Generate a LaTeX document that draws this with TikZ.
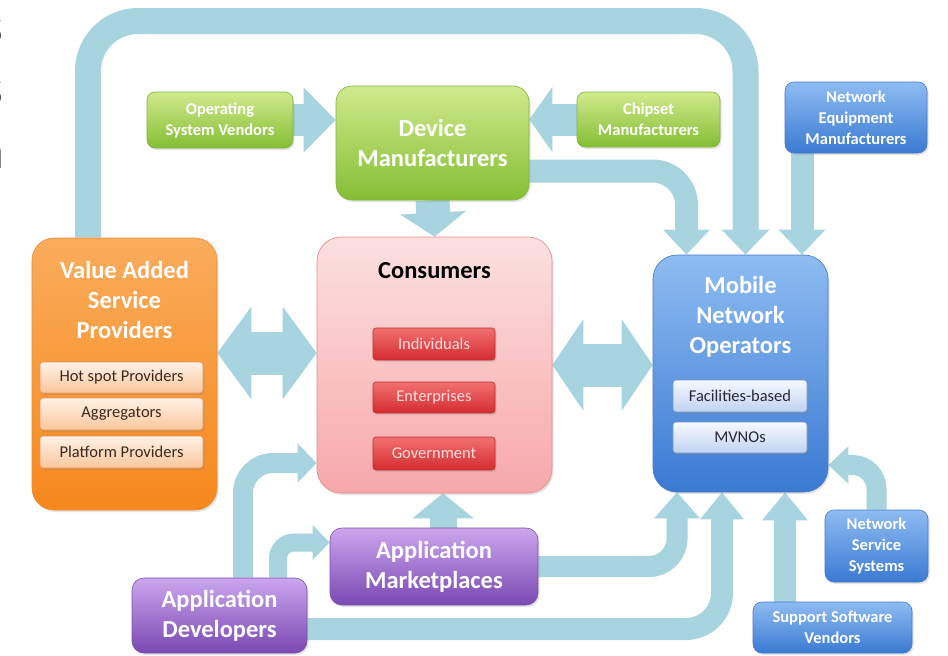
\documentclass[tikz,border=0pt]{standalone}
\usepackage{fontspec}
\setmainfont{Carlito}
\usetikzlibrary{arrows.meta,shadows,backgrounds}

\definecolor{flowblue}{RGB}{168,212,224}
\definecolor{edgegray}{RGB}{60,60,60}
\definecolor{greenT}{RGB}{208,234,140}
\definecolor{greenB}{RGB}{132,190,52}
\definecolor{greenE}{RGB}{130,180,70}
\definecolor{orangeT}{RGB}{250,172,92}
\definecolor{orangeB}{RGB}{246,136,28}
\definecolor{orangeE}{RGB}{235,140,50}
\definecolor{peachT}{RGB}{255,242,230}
\definecolor{peachB}{RGB}{250,198,156}
\definecolor{peachE}{RGB}{225,150,95}
\definecolor{pinkT}{RGB}{252,224,224}
\definecolor{pinkB}{RGB}{247,168,170}
\definecolor{pinkE}{RGB}{225,140,140}
\definecolor{redT}{RGB}{242,112,112}
\definecolor{redB}{RGB}{212,44,48}
\definecolor{redE}{RGB}{190,45,45}
\definecolor{blueT}{RGB}{142,188,242}
\definecolor{blueB}{RGB}{58,122,210}
\definecolor{blueE}{RGB}{70,120,200}
\definecolor{paleT}{RGB}{246,249,255}
\definecolor{paleB}{RGB}{192,211,242}
\definecolor{paleE}{RGB}{120,150,200}
\definecolor{purpleT}{RGB}{204,166,238}
\definecolor{purpleB}{RGB}{122,72,178}
\definecolor{purpleE}{RGB}{120,80,170}

\newcommand{\ttl}{\fontsize{24.5}{30}\selectfont\bfseries}
\newcommand{\lbl}{\fontsize{16.5}{21}\selectfont\bfseries}
\newcommand{\sublbl}{\fontsize{16.5}{20}\selectfont}

\tikzset{
  panel/.style={rounded corners=#1, line width=0.6pt, align=center, inner sep=2pt,
    drop shadow={shadow xshift=1.5pt, shadow yshift=-2pt, opacity=0.22}},
  gbox/.style={panel=#1, top color=greenT, bottom color=greenB, draw=greenE, text=white},
  obox/.style={panel=#1, top color=orangeT, bottom color=orangeB, draw=orangeE, text=white},
  pbox/.style={panel=#1, top color=pinkT, bottom color=pinkB, draw=pinkE, text=black},
  bbox/.style={panel=#1, top color=blueT, bottom color=blueB, draw=blueE, text=white},
  vbox/.style={panel=#1, top color=purpleT, bottom color=purpleB, draw=purpleE, text=white},
  peachsub/.style={panel=3pt, top color=peachT, bottom color=peachB, draw=peachE,
    text={rgb,255:red,60;green,40;blue,30}, font=\sublbl},
  redsub/.style={panel=3pt, top color=redT, bottom color=redB, draw=redE,
    text={rgb,255:red,255;green,222;blue,222}, font=\sublbl},
  palesub/.style={panel=3pt, top color=paleT, bottom color=paleB, draw=paleE,
    text={rgb,255:red,40;green,40;blue,55}, font=\sublbl},
  fl/.style n args={3}{draw=flowblue, line width=#1, -{Triangle[width=#2,length=#3]}},
  dfl/.style n args={3}{draw=flowblue, line width=#1,
    {Triangle[width=#2,length=#3]}-{Triangle[width=#2,length=#3]}},
  edgechar/.style={text=edgegray, inner sep=0pt, anchor=base east,
    font=\fontsize{53}{53}\selectfont}
}

\begin{document}
\begin{tikzpicture}[x=1pt,y=-1pt]
\useasboundingbox (0,0) rectangle (948,656);

% letters of a heading cut off at the left edge
\node[edgechar] (ch1) at (3,43) {s};
\node[edgechar] (ch2) at (3,105) {s};
\node[edgechar] (ch3) at (4.5,168) {n};

% suppliers of devices
\node[gbox=8pt, minimum width=146pt, minimum height=56pt, font=\lbl] (osv) at (220,120) {Operating\\System Vendors};
\node[gbox=16pt, minimum width=193pt, minimum height=114pt, font=\ttl] (dev) at (432.5,143) {Device\\Manufacturers};
\node[gbox=8pt, minimum width=143pt, minimum height=55pt, font=\lbl] (chip) at (648.5,119.5) {Chipset\\Manufacturers};
\node[bbox=9pt, minimum width=142pt, minimum height=71pt, font=\lbl] (nem) at (856,117.5) {Network\\Equipment\\Manufacturers};

% value added service providers
\node[obox=22pt, minimum width=185pt, minimum height=272pt] (vasp) at (124.5,374) {};
\node[text=white, font=\ttl, align=center] (vaspt) at (124.5,300) {Value Added\\Service\\Providers};
\node[peachsub, minimum width=163pt, minimum height=31pt] (hot) at (121.5,377.5) {Hot spot Providers};
\node[peachsub, minimum width=163pt, minimum height=32pt] (agg) at (121.5,414) {Aggregators};
\node[peachsub, minimum width=163pt, minimum height=32pt] (plat) at (121.5,452) {Platform Providers};

% consumers
\node[pbox=24pt, minimum width=235pt, minimum height=256pt] (cons) at (434.5,365) {};
\node[font=\ttl, text=black] (const) at (434.5,271) {Consumers};
\node[redsub, minimum width=122pt, minimum height=32pt] (ind) at (434,344) {Individuals};
\node[redsub, minimum width=122pt, minimum height=31pt] (ent) at (434,397.5) {Enterprises};
\node[redsub, minimum width=122pt, minimum height=33pt] (gov) at (434,453.5) {Government};

% mobile network operators
\node[bbox=24pt, minimum width=175pt, minimum height=237pt] (mno) at (740.5,373.5) {};
\node[text=white, font=\ttl, align=center] (mnot) at (740.5,317) {Mobile\\Network\\Operators};
\node[palesub, minimum width=134pt, minimum height=32pt] (fac) at (740,396) {Facilities-based};
\node[palesub, minimum width=134pt, minimum height=31pt] (mvno) at (740,437.5) {MVNOs};

% network side suppliers
\node[bbox=9pt, minimum width=103pt, minimum height=72pt, font=\lbl] (nss) at (876.5,546) {Network\\Service\\Systems};
\node[bbox=9pt, minimum width=159pt, minimum height=51pt, font=\lbl] (ssv) at (832.5,627.5) {Support Software\\Vendors};

% applications
\node[vbox=12pt, minimum width=175pt, minimum height=75pt, font=\ttl] (adev) at (219.5,615.5) {Application\\Developers};
\node[vbox=12pt, minimum width=208pt, minimum height=77pt, font=\ttl] (mkt) at (434,566.5) {Application\\Marketplaces};

% helper points for the flows
\coordinate (archL) at ([xshift=-36.5pt]vasp.north);
\coordinate (archR) at ([xshift=5pt]mno.north);
\coordinate (archTop) at (0,21);
\coordinate (devOut) at ([yshift=-28pt]dev.east);
\coordinate (mnoInA) at ([xshift=-54pt]mno.north);
\coordinate (nemOut) at ([xshift=-54pt]nem.south);
\coordinate (vaspOut) at ([yshift=21pt]vasp.east);
\coordinate (mktUp) at ([xshift=9pt]mkt.north);
\coordinate (adevA) at ([xshift=23.5pt]adev.north);
\coordinate (adevB) at ([xshift=58.5pt]adev.north);
\coordinate (adevC) at ([yshift=-13.5pt]adev.east);
\coordinate (yAD) at (0,463);
\coordinate (mktIn) at ([yshift=24pt]mkt.west);
\coordinate (mnoInB) at ([xshift=-63.5pt]mno.south);
\coordinate (mnoInC) at ([xshift=-18.5pt]mno.south);
\coordinate (ssvOut) at ([xshift=-47.5pt]ssv.north);
\coordinate (yNS) at (0,465);

\begin{scope}[on background layer]
\fill[white] (0,0) rectangle (948,656);
% value added providers to operators
\draw[fl={26pt}{46pt}{25pt}, rounded corners=50pt] (archL) |- (archR |- archTop) -- (archR);
% into device manufacturers
\draw[fl={32pt}{63pt}{32pt}] (osv.east) -- (osv.east -| dev.west);
\draw[fl={32pt}{64pt}{23pt}] (chip.west) -- (chip.west -| dev.east);
% device manufacturers onward
\draw[fl={34pt}{65pt}{24pt}] (dev.south) -- (cons.north);
\draw[fl={23pt}{45pt}{25pt}, rounded corners=34pt] (devOut) -| (mnoInA);
\draw[fl={23pt}{45pt}{25pt}] (nemOut) -- (nemOut |- mno.north);
% two-way flows with consumers
\draw[dfl={43pt}{91pt}{34pt}] (vaspOut) -- (vaspOut -| cons.west);
\draw[dfl={43pt}{90pt}{31pt}] (cons.east) -- (cons.east -| mno.west);
% applications
\draw[fl={27pt}{60pt}{25pt}] (mktUp) -- (mktUp |- cons.south);
\draw[fl={20pt}{38pt}{19pt}, rounded corners=30pt] (adevA) |- (cons.west |- yAD);
\draw[fl={18pt}{34pt}{17pt}, rounded corners=16pt] (adevB) |- (mktIn);
\draw[fl={21pt}{44pt}{26pt}, rounded corners=28pt] (mkt.east) -| (mnoInB);
\draw[fl={22pt}{42pt}{27pt}, rounded corners=36pt] (adevC) -| (mnoInC);
% network side suppliers to operators
\draw[fl={22pt}{44pt}{28pt}] (ssvOut) -- (ssvOut |- mno.south);
\draw[fl={20pt}{36pt}{20pt}, rounded corners=24pt] (nss.north) |- (mno.east |- yNS);
\end{scope}
\end{tikzpicture}
\end{document}
